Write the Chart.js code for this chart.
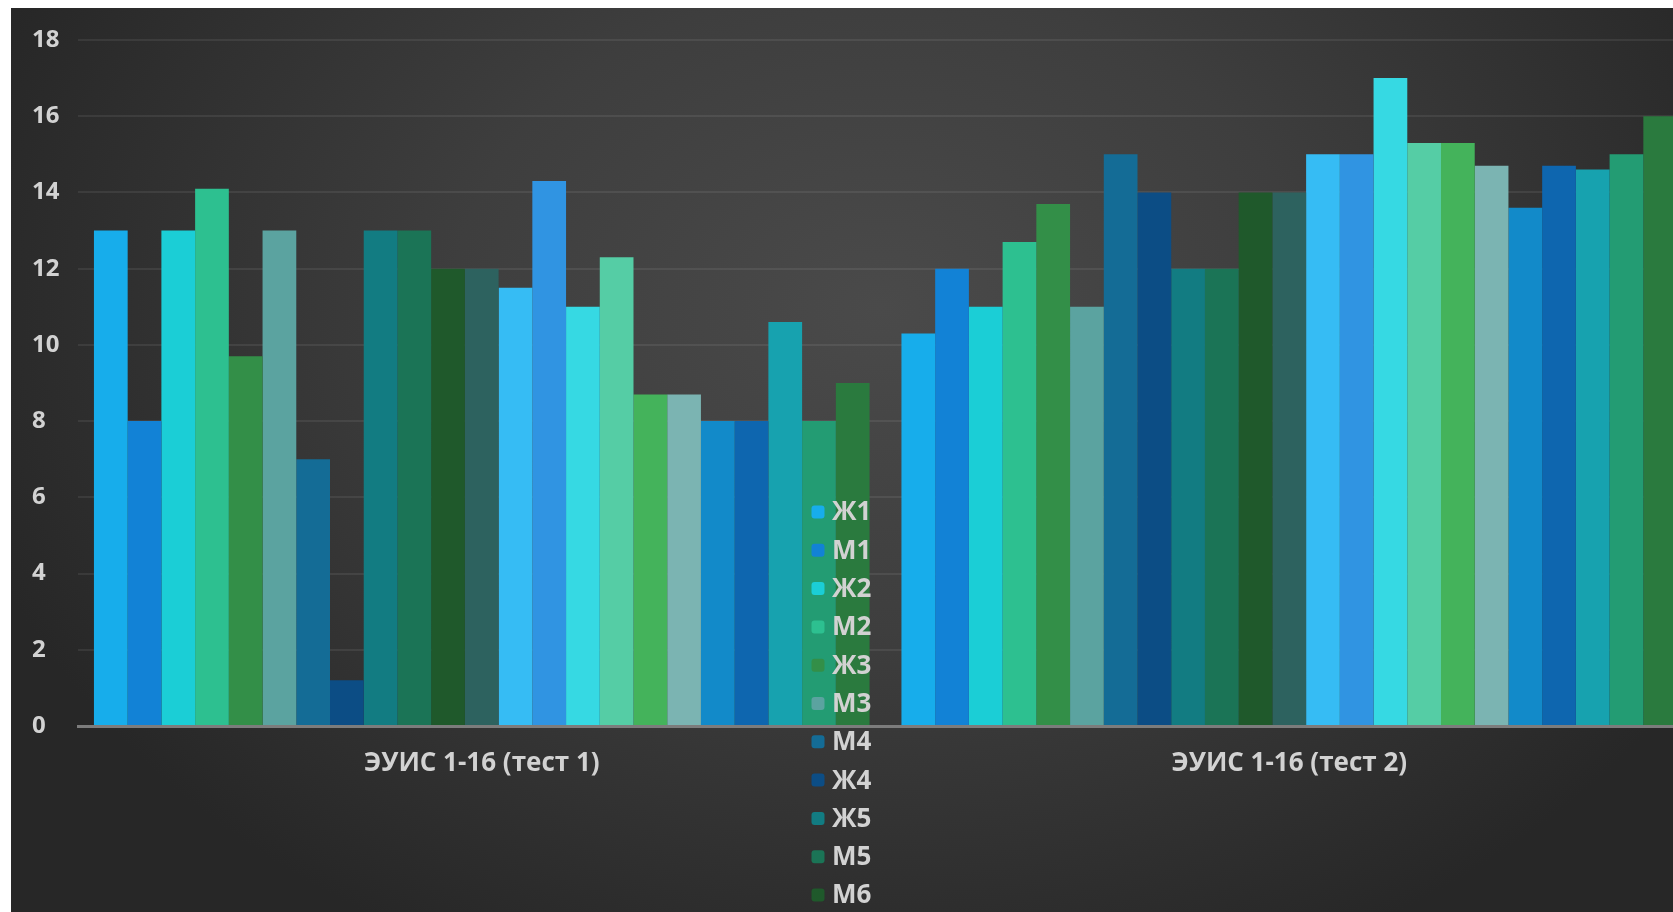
<!DOCTYPE html>
<html lang="ru">
<head>
<meta charset="utf-8">
<title>ЭУИС 1-16</title>
<script src="https://cdn.jsdelivr.net/npm/chart.js@4/dist/chart.umd.min.js"></script>
<style>
  html, body { margin: 0; padding: 0; background: #ffffff; overflow: hidden; width: 1673px; height: 912px; }
  #wrap { position: absolute; left: 11px; top: 8px; width: 1700px; height: 904px; }
  canvas { display: block; }
</style>
</head>
<body>
<div id="wrap"><canvas id="c" width="1700" height="904"></canvas></div>
<script>
// Two test sessions
const categories = ['ЭУИС 1-16 (тест 1)', 'ЭУИС 1-16 (тест 2)'];

// Participants (series order)
const seriesNames = ['Ж1', 'М1', 'Ж2', 'М2', 'Ж3', 'М3', 'М4', 'Ж4', 'Ж5', 'М5', 'М6',
  'Ж6', 'Ж7', 'М7', 'Ж8', 'М8', 'Ж9', 'М9', 'Ж10', 'М10', 'Ж11', 'М11', 'Ж12'];

// Scores in test 1 and test 2, one entry per participant
const test1 = [13, 8, 13, 14.1, 9.7, 13, 7, 1.2, 13, 13, 12, 12, 11.5, 14.3, 11, 12.3, 8.7, 8.7, 8, 8, 10.6, 8, 9];
const test2 = [10.3, 12, 11, 12.7, 13.7, 11, 15, 14, 12, 12, 14, 14, 15, 15, 17, 15.3, 15.3, 14.7, 13.6, 14.7, 14.6, 15, 16];

// Value axis
const yTicks = [0, 2, 4, 6, 8, 10, 12, 14, 16, 18];

const palette = ['#17adeb', '#1282d6', '#1bced6', '#2dc090', '#338f48', '#5ba3a0', '#146c96', '#0c4d85',
  '#127c82', '#1b7456', '#1f592b', '#2d625f', '#36bcf4', '#3094e2', '#36d9e3', '#55cda5',
  '#44b35b', '#7bb4b2', '#128ac9', '#0e66af', '#17a2af', '#239c73', '#2a7a3e'];

const family = "'Open Sans', 'DejaVu Sans', sans-serif";
const axisFont = { family, size: 24, weight: '700' };
const catFont = { family, size: 26, weight: '700' };
const legendFont = { family, size: 26, weight: '700' };
const textColor = '#d2d2d2';

const datasets = seriesNames.map((name, i) => ({
  label: name,
  data: [test1[i], test2[i]],
  backgroundColor: palette[i],
  borderWidth: 0,
  barPercentage: 1.0,
  categoryPercentage: 0.9605
}));

// Dark backdrop with a soft central glow
const backdrop = {
  id: 'backdrop',
  beforeDraw(chart) {
    const { ctx, width, height } = chart;
    ctx.save();
    ctx.fillStyle = '#2a2a2a';
    ctx.fillRect(0, 0, width, height);
    const cx = 870, cy = 300, rx = 950, ry = 720;
    ctx.translate(cx, cy);
    ctx.scale(1, ry / rx);
    const g = ctx.createRadialGradient(0, 0, 0, 0, 0, rx);
    g.addColorStop(0, '#4a4a4a');
    g.addColorStop(0.45, '#3e3e3e');
    g.addColorStop(1, '#272727');
    ctx.fillStyle = g;
    ctx.fillRect(-cx, -cy * rx / ry, width, height * rx / ry);
    ctx.restore();
  }
};

// Vertical legend column drawn over the plot
const columnLegend = {
  id: 'columnLegend',
  afterDraw(chart) {
    const { ctx } = chart;
    const x0 = 807, y0 = 504, step = 38.3, box = 13;
    ctx.save();
    ctx.font = `${legendFont.weight} ${legendFont.size}px ${legendFont.family}`;
    ctx.textBaseline = 'middle';
    ctx.textAlign = 'left';
    chart.data.datasets.forEach((ds, i) => {
      const y = y0 + i * step;
      if (y > chart.height + 20) return;
      ctx.fillStyle = ds.backgroundColor;
      ctx.beginPath();
      ctx.roundRect(x0 - box / 2, y - box / 2, box, box, 3);
      ctx.fill();
      ctx.fillStyle = textColor;
      ctx.fillText(ds.label, x0 + 14, y + 1);
    });
    ctx.restore();
  }
};

new Chart(document.getElementById('c'), {
  type: 'bar',
  data: { labels: categories, datasets },
  plugins: [backdrop, columnLegend],
  options: {
    responsive: false,
    animation: false,
    layout: { padding: { left: 21, top: 32, right: 18, bottom: 0 } },
    plugins: {
      legend: { display: false },
      tooltip: { enabled: false }
    },
    scales: {
      x: {
        grid: { display: false, drawTicks: false },
        border: { display: true, color: '#7c7c7c', width: 3 },
        ticks: { color: textColor, font: catFont, padding: 22, maxRotation: 0 },
        afterFit(scale) { scale.height = 186; }
      },
      y: {
        min: 0,
        max: 18,
        afterBuildTicks(scale) { scale.ticks = yTicks.map(v => ({ value: v })); },
        grid: { color: 'rgba(255,255,255,0.075)', lineWidth: 2, drawTicks: false },
        border: { display: false },
        ticks: { color: textColor, font: axisFont, crossAlign: 'far', padding: 14 },
        afterFit(scale) { scale.width = 46; }
      }
    }
  }
});
</script>
</body>
</html>
